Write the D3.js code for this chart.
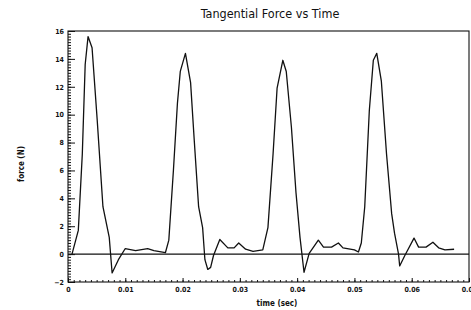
<!DOCTYPE html>
<html>
<head>
<meta charset="utf-8">
<script src="https://cdn.jsdelivr.net/npm/d3@7"></script>
<style>
  body { margin: 0; background: #fff; }
  text { font-family: "Liberation Sans Narrow", "DejaVu Sans Condensed", sans-serif; fill: #111; }
</style>
</head>
<body>
<div id="wrapper"></div>
<script>
// values
const timeSec = [
  0.0007, 0.0018, 0.0025, 0.0030, 0.0035, 0.0042, 0.0051, 0.0061, 0.0072, 0.0077,
  0.0088, 0.0100, 0.0118, 0.0139, 0.0150, 0.0170,
  0.0176, 0.0184, 0.0191, 0.0196, 0.0205, 0.0214, 0.0220, 0.0228, 0.0235, 0.0239,
  0.0244, 0.0249, 0.0254, 0.0265, 0.0279, 0.0290, 0.0298, 0.0310, 0.0323, 0.0340,
  0.0349, 0.0358, 0.0365, 0.0375, 0.0381, 0.0390, 0.0398, 0.0405, 0.0412,
  0.0421, 0.0437, 0.0446, 0.0460, 0.0472, 0.0480, 0.0500, 0.0507,
  0.0512, 0.0518, 0.0526, 0.0533, 0.0539, 0.0547, 0.0556, 0.0565, 0.0570, 0.0577,
  0.0579, 0.0588, 0.0604, 0.0612, 0.0625, 0.0637, 0.0647, 0.0658, 0.0674
];
const forceN = [
  0.0, 1.7, 7.2, 13.6, 15.6, 14.8, 9.6, 3.4, 1.2, -1.35,
  -0.4, 0.4, 0.25, 0.4, 0.25, 0.1,
  1.0, 6.0, 10.8, 13.1, 14.4, 12.3, 8.4, 3.4, 1.9, -0.4,
  -1.1, -0.95, -0.1, 1.05, 0.45, 0.45, 0.8, 0.35, 0.2, 0.3,
  1.9, 7.2, 11.9, 13.9, 13.1, 9.1, 4.4, 1.2, -1.3,
  0.05, 1.0, 0.5, 0.5, 0.8, 0.45, 0.3, 0.15,
  0.8, 3.4, 10.3, 13.9, 14.4, 12.4, 7.2, 2.9, 1.5, 0.0,
  -0.85, -0.1, 1.15, 0.5, 0.5, 0.85, 0.45, 0.3, 0.35
];
const xTicks = [0, 0.01, 0.02, 0.03, 0.04, 0.05, 0.06, 0.07];
const yTicks = [-2, 0, 2, 4, 6, 8, 10, 12, 14, 16];
const title = 'Tangential Force vs Time';
const xLabel = 'time (sec)';
const yLabel = 'force (N)';

const data = timeSec.map((t, i) => ({ t: t, f: forceN[i] }));

// 1. Dimensions
const dimensions = {
  width: 471,
  height: 310,
  margin: { top: 31, right: 2, bottom: 28, left: 68 },
};
dimensions.boundedWidth = dimensions.width - dimensions.margin.left - dimensions.margin.right;
dimensions.boundedHeight = dimensions.height - dimensions.margin.top - dimensions.margin.bottom;

// 2. Canvas
const wrapper = d3.select('#wrapper')
  .append('svg')
  .attr('width', dimensions.width)
  .attr('height', dimensions.height);

const bounds = wrapper.append('g')
  .attr('transform', `translate(${dimensions.margin.left},${dimensions.margin.top})`);

// 3. Scales
const xScale = d3.scaleLinear()
  .domain([0, 0.07])
  .range([0, dimensions.boundedWidth]);

const yScale = d3.scaleLinear()
  .domain([-2, 16])
  .range([dimensions.boundedHeight, 0]);

// 4. Frame and zero line
bounds.append('rect')
  .attr('width', dimensions.boundedWidth)
  .attr('height', dimensions.boundedHeight)
  .attr('fill', 'none')
  .attr('stroke', '#111')
  .attr('stroke-width', 1.1);

bounds.append('line')
  .attr('x1', 0)
  .attr('x2', dimensions.boundedWidth)
  .attr('y1', yScale(0))
  .attr('y2', yScale(0))
  .attr('stroke', '#111')
  .attr('stroke-width', 1.1);

// 5. Axes (ticks inward)
const xMinor = d3.range(0, 0.0701, 0.001);
const yMinor = d3.range(-2, 16.01, 0.2);

const xMinorAxis = bounds.append('g')
  .attr('transform', `translate(0,${dimensions.boundedHeight})`)
  .call(d3.axisBottom(xScale).tickValues(xMinor).tickSize(-2).tickFormat(''));
const xAxis = bounds.append('g')
  .attr('transform', `translate(0,${dimensions.boundedHeight})`)
  .call(d3.axisBottom(xScale)
    .tickValues(xTicks)
    .tickSize(-4)
    .tickPadding(5)
    .tickFormat(d => d === 0 ? '0' : d3.format('.2f')(d)));

const yMinorAxis = bounds.append('g')
  .call(d3.axisLeft(yScale).tickValues(yMinor).tickSize(-3).tickFormat(''));
const yAxis = bounds.append('g')
  .call(d3.axisLeft(yScale).tickValues(yTicks).tickSize(-7).tickPadding(4));

[xMinorAxis, xAxis, yMinorAxis, yAxis].forEach(a => {
  a.select('.domain').remove();
  a.selectAll('.tick line').attr('stroke', '#111').attr('stroke-width', 1);
});
[xAxis, yAxis].forEach(a => {
  a.selectAll('.tick text')
    .attr('font-size', '7px')
    .attr('font-weight', 'bold')
    .style('font-family', '"Liberation Sans Narrow", "DejaVu Sans Condensed", sans-serif')
    .attr('fill', '#111');
});

// 6. Data line
const lineGenerator = d3.line()
  .x(d => xScale(d.t))
  .y(d => yScale(d.f));

bounds.append('path')
  .attr('d', lineGenerator(data))
  .attr('fill', 'none')
  .attr('stroke', '#111')
  .attr('stroke-width', 1.3)
  .attr('stroke-linejoin', 'round');

// 7. Labels
wrapper.append('text')
  .attr('x', 270)
  .attr('y', 18)
  .attr('text-anchor', 'middle')
  .attr('font-size', '12.5px')
  .text(title);

wrapper.append('text')
  .attr('x', 277)
  .attr('y', 306)
  .attr('text-anchor', 'middle')
  .attr('font-size', '8px')
  .attr('font-weight', 'bold')
  .text(xLabel);

wrapper.append('text')
  .attr('transform', 'translate(24,164) rotate(-90)')
  .attr('text-anchor', 'middle')
  .attr('font-size', '8px')
  .attr('font-weight', 'bold')
  .text(yLabel);
</script>
</body>
</html>
